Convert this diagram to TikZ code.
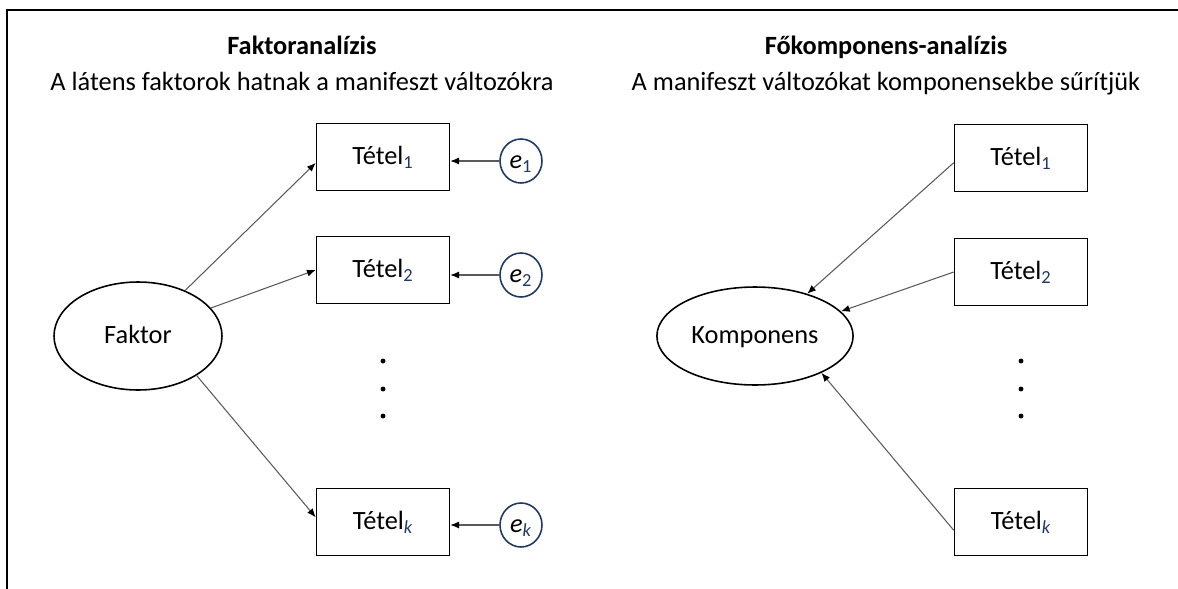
\documentclass[tikz,border=0pt]{standalone}
\usepackage{fontspec}
\setmainfont{Carlito}
\usetikzlibrary{shapes.geometric,arrows.meta}
\definecolor{navy}{RGB}{32,56,100}
\definecolor{linegray}{RGB}{90,90,90}
\newcommand{\tetel}[1]{Tétel\textsubscript{\color{navy}#1}}
\newcommand{\hiba}[1]{\textit{e}\textsubscript{\color{navy}#1}}
\begin{document}
\begin{tikzpicture}[x=0.02cm,y=-0.02cm,
  txt/.style={font=\fontsize{15}{18}\selectfont,text height=1.8ex,text depth=0ex},
  tbox/.style={draw,line width=0.9pt,minimum width=2.66cm,minimum height=1.34cm,txt},
  latent/.style={draw,ellipse,line width=0.9pt,txt},
  err/.style={draw=navy,ellipse,line width=0.9pt,minimum width=0.84cm,minimum height=0.88cm,inner sep=0pt,txt},
  path/.style={draw=linegray,line width=0.6pt,-{Latex[length=5pt,width=4pt,color=black]}},
  dot/.style={fill,circle,inner sep=0pt,minimum size=2.8pt}]
\useasboundingbox (0,0) rectangle (1178,589);
% Frame
\draw[line width=0.8pt] (7,589) -- (7,10) -- (1178,10);

% Titles
\node[txt,font=\fontsize{15}{18}\selectfont\bfseries] (titleL) at (302,47) {Faktoranalízis};
\node[txt] (subL) at (302,83) {A látens faktorok hatnak a manifeszt változókra};
\node[txt,font=\fontsize{15}{18}\selectfont\bfseries] (titleR) at (886,47) {Főkomponens-analízis};
\node[txt] (subR) at (886,83) {A manifeszt változókat komponensekbe sűrítjük};

% Factor model
\node[latent,minimum width=3.36cm,minimum height=2.16cm] (faktor) at (138,336) {Faktor};
\node[tbox] (t1) at (383,157) {\tetel{1}};
\node[tbox] (t2) at (383,270) {\tetel{2}};
\node[tbox] (tk) at (383,522) {\tetel{\itshape k}};
\node[err] (e1) at (521,161) {\hiba{1}};
\node[err] (e2) at (521,275) {\hiba{2}};
\node[err] (ek) at (521,525) {\hiba{\itshape k}};
\node[dot] (d1) at (383,361) {};
\node[dot] (d2) at (383,389) {};
\node[dot] (d3) at (383,416) {};

\draw[path] (faktor.44) -- (t1.185);
\draw[path] (faktor.21) -- (t2.west);
\draw[path] (faktor.-34) -- (tk.176);
\draw[path] (e1.west) -- (e1.west -| t1.east);
\draw[path] (e2.west) -- (e2.west -| t2.east);
\draw[path] (ek.west) -- (ek.west -| tk.east);

% Component model
\node[latent,minimum width=3.68cm,minimum height=1.96cm] (komp) at (755,336) {Komponens};
\node[tbox] (r1) at (1021,158) {\tetel{1}};
\node[tbox] (r2) at (1021,272) {\tetel{2}};
\node[tbox] (rk) at (1021,522) {\tetel{\itshape k}};
\node[dot] (f1) at (1021,361) {};
\node[dot] (f2) at (1021,389) {};
\node[dot] (f3) at (1021,416) {};

\draw[path] (r1.184) -- (komp.39);
\draw[path] (r2.west) -- (komp.16);
\draw[path] (rk.187) -- (komp.-29);
\end{tikzpicture}
\end{document}
